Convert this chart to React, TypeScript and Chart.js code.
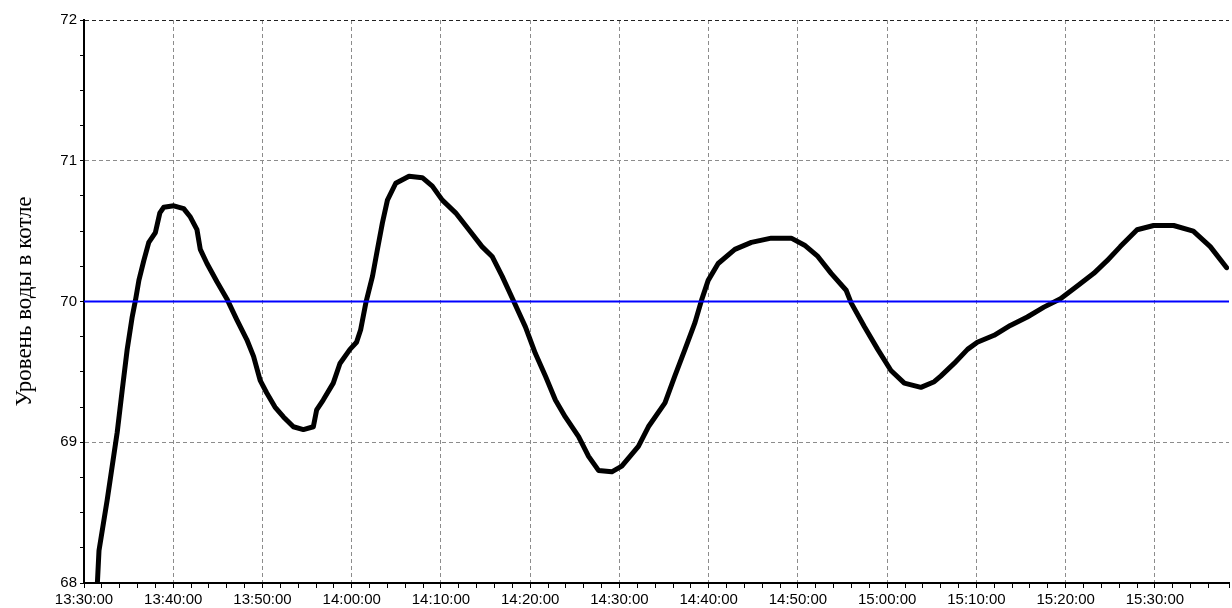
import { useEffect, useRef } from 'react';
import { Chart, registerables } from 'chart.js';

Chart.register(...registerables);

// time in minutes since 13:30:00
const timeMin = [
  1.5, 1.68, 2.6, 3.72, 4.28, 4.84, 5.4, 5.77, 6.15, 6.7, 7.26, 8.0, 8.5, 8.94,
  10.06, 11.17, 11.92, 12.66, 13.03, 13.78, 14.9, 16.0, 17.13, 18.24, 19.0, 19.74,
  20.48, 21.4, 22.35, 23.46, 24.58, 25.7, 26.07, 26.8, 27.93, 28.68, 29.8, 30.54,
  31.0, 31.58, 32.33, 32.88, 33.44, 34.0, 34.93, 36.42, 37.91, 39.03, 40.15, 41.64,
  43.13, 44.6, 45.73, 46.85, 48.16, 49.46, 50.58, 51.7, 52.82, 53.93, 55.42, 56.54,
  57.65, 59.14, 60.26, 62.12, 63.24, 65.1, 66.2, 67.34, 68.46, 69.2, 69.94, 71.06,
  72.93, 74.78, 77.0, 79.25, 80.74, 82.23, 83.72, 85.4, 85.96, 87.45, 88.94, 90.42,
  91.92, 93.78, 95.27, 96.0, 97.5, 99.0, 100.1, 101.98, 103.8, 105.7, 107.56,
  109.42, 111.3, 113.15, 114.64, 116.12, 118.0, 119.85, 122.1, 124.3, 126.2, 128.04,
];
const level = [
  68.0, 68.23, 68.59, 69.07, 69.37, 69.66, 69.89, 70.01, 70.15, 70.29, 70.42, 70.49, 70.63, 70.67,
  70.68, 70.66, 70.6, 70.51, 70.37, 70.27, 70.14, 70.02, 69.87, 69.73, 69.61, 69.44,
  69.35, 69.25, 69.18, 69.11, 69.09, 69.11, 69.23, 69.3, 69.42, 69.56, 69.66, 69.71,
  69.8, 69.99, 70.18, 70.37, 70.56, 70.72, 70.84, 70.89, 70.88, 70.82, 70.72, 70.63,
  70.51, 70.39, 70.32, 70.18, 70.0, 69.82, 69.63, 69.47, 69.3, 69.18, 69.04, 68.9,
  68.8, 68.79, 68.83, 68.97, 69.11, 69.28, 69.47, 69.66, 69.85, 70.01, 70.15, 70.27,
  70.37, 70.42, 70.45, 70.45, 70.4, 70.32, 70.2, 70.08, 69.99, 69.82, 69.66, 69.51,
  69.42, 69.39, 69.43, 69.47, 69.56, 69.66, 69.71, 69.76, 69.83, 69.89, 69.96,
  70.02, 70.11, 70.2, 70.29, 70.39, 70.51, 70.54, 70.54, 70.5, 70.39, 70.24,
];

const setpoint = 70;
const xMin = 0;
const xMax = 128.3;
const xTickLabels = [
  '13:30:00', '13:40:00', '13:50:00', '14:00:00', '14:10:00', '14:20:00', '14:30:00',
  '14:40:00', '14:50:00', '15:00:00', '15:10:00', '15:20:00', '15:30:00',
];
const yTickLabels = ['68', '69', '70', '71', '72'];
const yMin = 68;
const yMax = 72;
const yTitle = 'Уровень воды в котле';

const isMult = (v: number, m: number) => Math.abs(v - Math.round(v / m) * m) < 1e-6;

export default function App() {
  const ref = useRef<HTMLCanvasElement | null>(null);

  useEffect(() => {
    if (!ref.current) return;
    const chart = new Chart(ref.current, {
      type: 'line',
      data: {
        datasets: [
          {
            label: 'setpoint',
            data: [
              { x: xMin, y: setpoint },
              { x: xMax, y: setpoint },
            ],
            borderColor: '#0000ff',
            borderWidth: 2,
            pointRadius: 0,
            tension: 0,
          },
          {
            label: 'level',
            data: timeMin.map((t, i) => ({ x: t, y: level[i] })),
            borderColor: '#000000',
            borderWidth: 5,
            pointRadius: 0,
            tension: 0,
            borderJoinStyle: 'round',
            borderCapStyle: 'round',
          },
        ],
      },
      options: {
        animation: false,
        responsive: false,
        layout: { padding: { top: 20, right: 0, bottom: 0, left: 0 } },
        plugins: {
          legend: { display: false },
          tooltip: { enabled: false },
        },
        scales: {
          x: {
            type: 'linear',
            min: xMin,
            max: xMax,
            afterFit: (s: any) => {
              s.height = 25;
            },
            border: { color: '#000', width: 2, dash: [4, 3] },
            grid: {
              color: (ctx: any) => {
                const v = ctx.tick?.value ?? 0;
                if (v === 0) return 'rgba(0,0,0,0)';
                return isMult(v, 10) ? '#8c8c8c' : 'rgba(0,0,0,0)';
              },
              lineWidth: 1,
              tickColor: '#000',
              tickLength: 5,
              tickBorderDash: [],
              tickWidth: 1,
            },
            ticks: {
              stepSize: 2,
              autoSkip: false,
              maxRotation: 0,
              minRotation: 0,
              padding: 3,
              color: '#000',
              font: { family: 'Liberation Sans', size: 15 },
              callback: (v: any) => {
                const n = Number(v);
                if (!isMult(n, 10)) return '';
                return xTickLabels[Math.round(n / 10)] ?? '';
              },
            },
          },
          y: {
            type: 'linear',
            min: yMin,
            max: yMax,
            afterFit: (s: any) => {
              s.width = 84;
            },
            border: { color: '#000', width: 2, dash: [4, 3] },
            title: {
              display: true,
              text: yTitle,
              color: '#000',
              font: { family: 'Liberation Serif', size: 23 },
              padding: { top: 11, bottom: 0 },
            },
            grid: {
              color: (ctx: any) => {
                const v = ctx.tick?.value ?? 0;
                if (Math.abs(v - yMax) < 1e-6) return '#222';
                if (Math.abs(v - yMin) < 1e-6) return 'rgba(0,0,0,0)';
                return isMult(v, 1) ? '#8c8c8c' : 'rgba(0,0,0,0)';
              },
              lineWidth: 1,
              tickColor: '#000',
              tickLength: 4,
              tickBorderDash: [],
              tickWidth: 1,
            },
            ticks: {
              stepSize: 0.25,
              autoSkip: false,
              padding: 3,
              color: '#000',
              font: { family: 'Liberation Sans', size: 15 },
              callback: (v: any) => {
                const n = Number(v);
                if (!isMult(n, 1)) return '';
                return yTickLabels[Math.round(n - yMin)] ?? '';
              },
            },
          },
        },
      },
    });
    return () => chart.destroy();
  }, []);

  return (
    <div style={{ position: 'fixed', left: 0, top: 0, width: 1232, height: 608, background: '#fff' }}>
      <canvas ref={ref} width={1232} height={608} style={{ display: 'block' }} />
    </div>
  );
}
